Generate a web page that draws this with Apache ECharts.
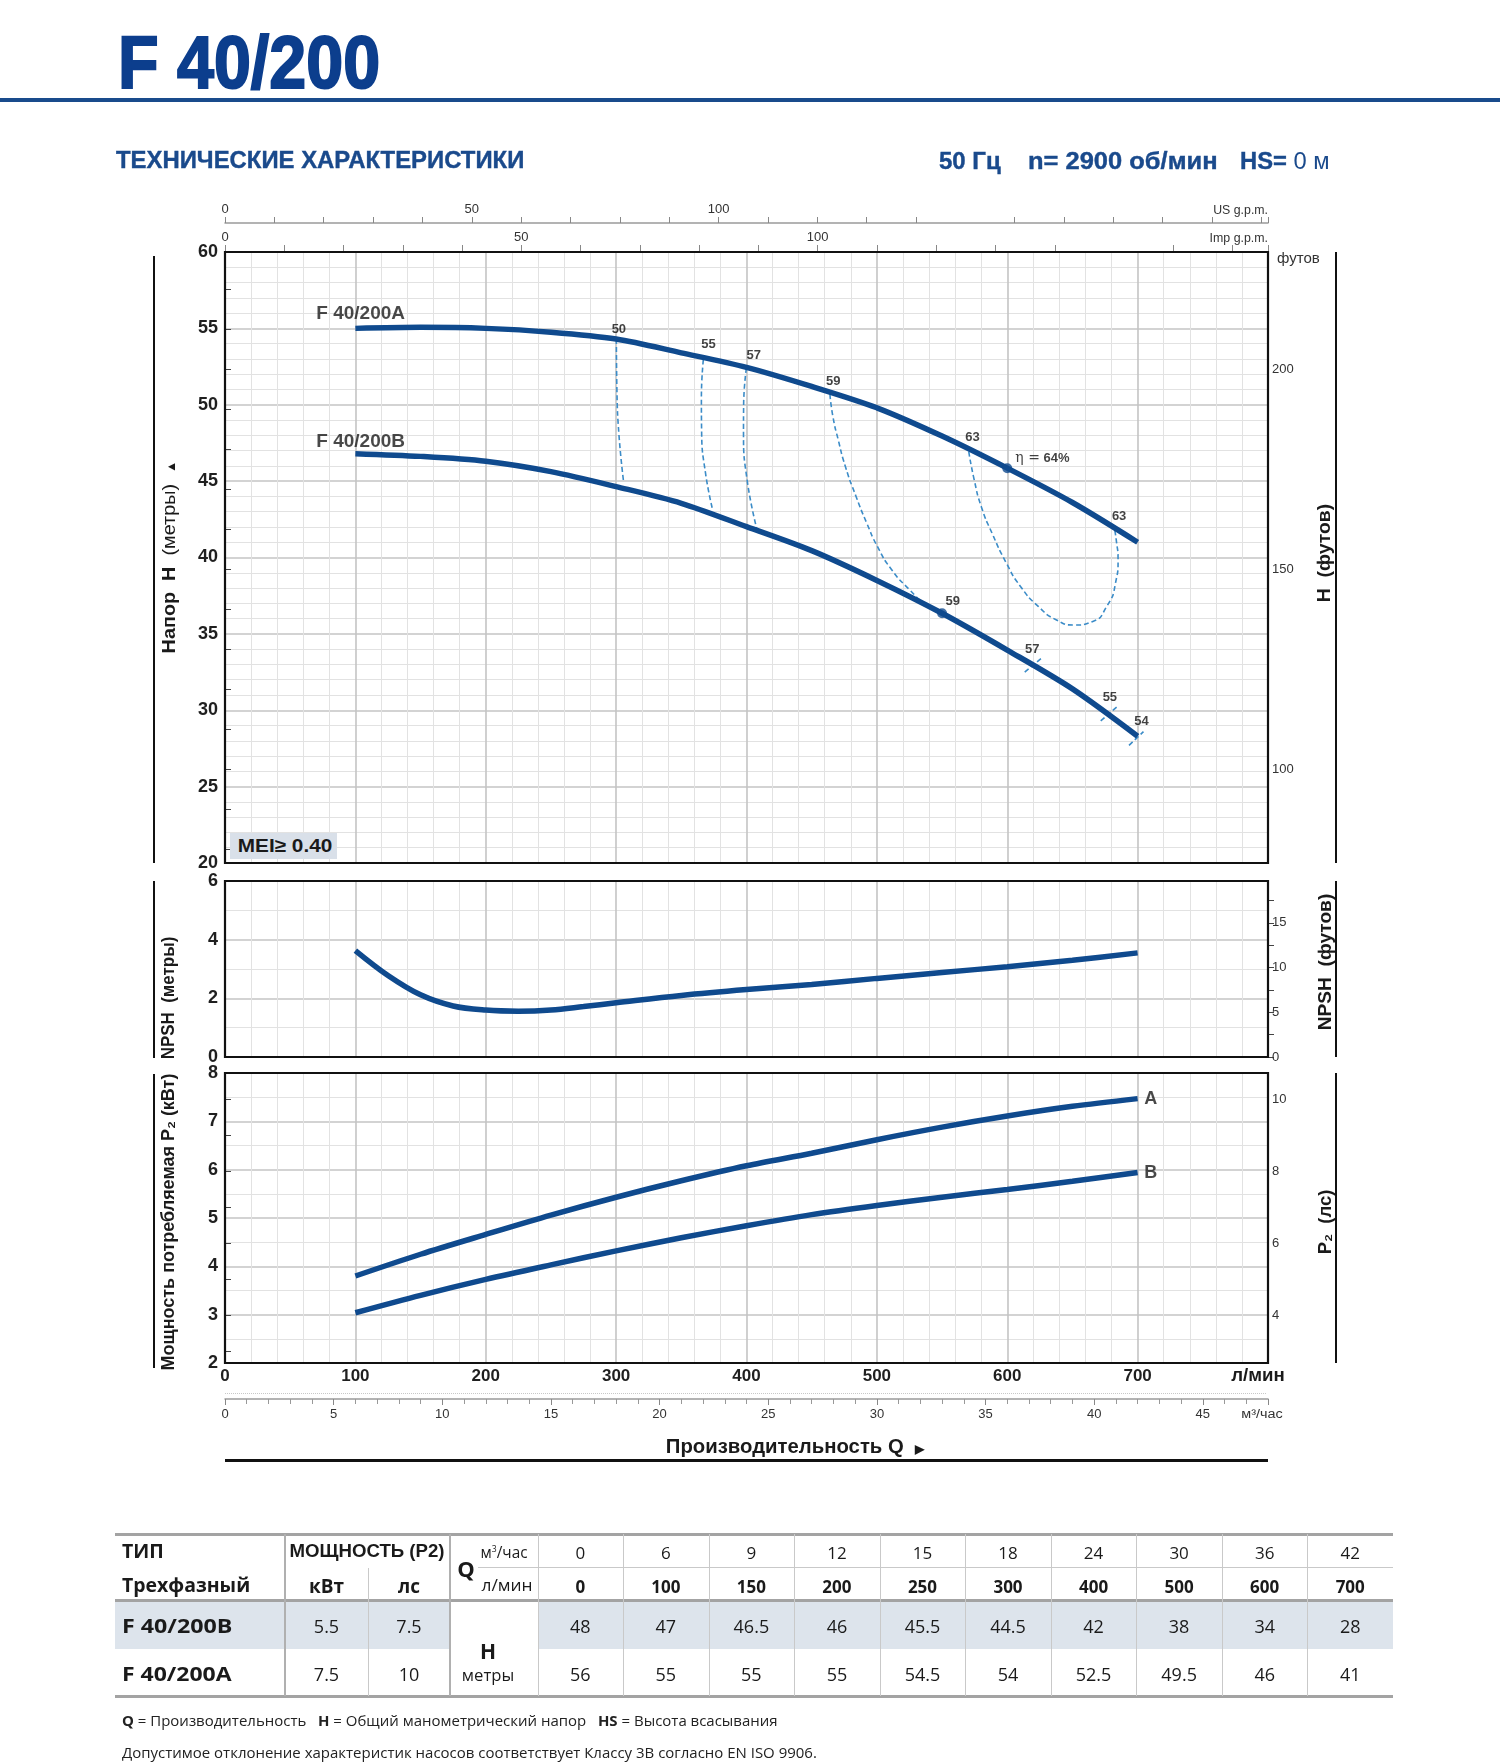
<!DOCTYPE html>
<html><head><meta charset="utf-8">
<script src="https://cdn.jsdelivr.net/npm/echarts@6/dist/echarts.min.js"></script>
<style>
html,body{margin:0;padding:0;background:#fff;}
#page{position:relative;width:1500px;height:1763px;overflow:hidden;background:#fff;}
#chart{position:absolute;left:0;top:0;width:1500px;height:1763px;}
.t{position:absolute;white-space:nowrap;line-height:1.2;transform-origin:0 0;z-index:2;}
.r{position:absolute;z-index:1;}
</style></head><body>
<div id="page"><div id="chart"></div></div>
<script>
// ---------------- data ----------------
const tableQm3   = [0, 6, 9, 12, 15, 18, 24, 30, 36, 42];
const tableQlmin = [0, 100, 150, 200, 250, 300, 400, 500, 600, 700];
const tableHB    = [48, 47, 46.5, 46, 45.5, 44.5, 42, 38, 34, 28];
const tableHA    = [56, 55, 55, 55, 54.5, 54, 52.5, 49.5, 46, 41];
const modelNames = ['F 40/200B', 'F 40/200A'];
const modelKw    = ['5.5', '7.5'];
const modelHp    = ['7.5', '10'];

// curves (Q in l/min)
const curveQ = [100, 150, 200, 250, 300, 350, 400, 450, 500, 550, 600, 650, 700];
const headA  = [55.0, 55.07, 55.0, 54.75, 54.3, 53.4, 52.45, 51.2, 49.8, 47.95, 45.85, 43.6, 41.0];
const headB  = [46.8, 46.62, 46.3, 45.62, 44.64, 43.55, 42.02, 40.45, 38.5, 36.35, 33.94, 31.4, 28.3];

const npshQ = [100, 125, 150, 175, 200, 225, 250, 275, 300, 350, 400, 450, 500, 550, 600, 650, 700];
const npshM = [3.63, 2.78, 2.12, 1.74, 1.60, 1.56, 1.60, 1.72, 1.85, 2.10, 2.30, 2.47, 2.68, 2.88, 3.08, 3.30, 3.55];

const powerQ = [100, 150, 200, 250, 300, 350, 400, 450, 500, 550, 600, 650, 700];
const powerA = [3.80, 4.25, 4.66, 5.06, 5.43, 5.77, 6.08, 6.34, 6.62, 6.88, 7.11, 7.31, 7.47];
const powerB = [3.04, 3.40, 3.73, 4.03, 4.32, 4.59, 4.84, 5.07, 5.26, 5.43, 5.59, 5.76, 5.94];

const iso50 = [[300.2, 54.3], [300.6, 51.0], [302.2, 48.0], [305.8, 44.9]];
const iso55 = [[366.9, 52.95], [365.4, 50.5], [365.6, 48.1], [368.6, 45.5], [373.8, 43.2]];
const iso57 = [[399.9, 52.4], [397.8, 50.0], [397.7, 48.1], [400.6, 45.0], [408.1, 41.8]];
const iso59 = [[464.0, 50.68], [466.3, 49.22], [470.4, 47.69], [475.9, 45.94], [484.1, 43.98], [492.3, 42.24], [500.5, 40.71], [511.5, 39.18], [525.3, 37.87], [536.3, 37.0], [548.6, 36.35]];
const iso63 = [[570.5, 46.93], [574.7, 45.07], [580.1, 43.33], [588.4, 41.58], [599.4, 39.62], [610.3, 38.09], [624.0, 36.78], [637.8, 35.91], [651.5, 35.58], [665.2, 35.80], [676.2, 36.78], [683.0, 38.31], [685.0, 39.84], [683.6, 41.15], [682.2, 41.91]];
const isoTick57 = [[613.4, 32.5], [626.2, 33.4]];
const isoTick55 = [[671.7, 29.3], [683.9, 30.2]];
const isoTick54 = [[693.4, 27.7], [704.5, 28.6]];
const effLabels = [[302.1, 54.94, '50'], [370.8, 53.96, '55'], [405.6, 53.26, '57'], [466.5, 51.55, '59'], [573.3, 47.84, '63'], [685.8, 42.72, '63'], [558.2, 37.11, '59'], [619.1, 33.99, '57'], [678.7, 30.82, '55'], [702.9, 29.25, '54']];
const bepPoints = [[600, 45.84], [550, 36.35]];
const etaLabel  = [[606.2, 46.47, 'η = 64%']];
const curveNames = [[70, 55.98, 'F 40/200A'], [70, 47.6, 'F 40/200B']];
const powerNames = [[705, 7.47, 'A'], [705, 5.94, 'B']];

const ftTicksH   = [80, 90, 100, 110, 120, 130, 140, 150, 160, 170, 180, 190, 200, 210, 220];
const ftLabelsH  = [100, 150, 200];
const ftTicksN   = [0, 2.5, 5, 7.5, 10, 12.5, 15, 17.5];
const ftLabelsN  = [0, 5, 10, 15];
const hpTicks    = [3, 4, 5, 6, 7, 8, 9, 10];
const hpLabels   = [4, 6, 8, 10];
const usLabels   = [0, 50, 100, 150];
const impLabels  = [0, 50, 100, 150];

// ---------------- style ----------------
const NARROW = "'Liberation Sans Narrow','Liberation Sans',Arial,sans-serif";
const ARIAL = "'Liberation Sans',Arial,sans-serif";
const OPEN = "'Open Sans','Noto Sans',sans-serif";
const C_CURVE = '#0f4a8e';
const C_ISO = '#3b8cc8';
const BLUE = '#1a4a8c';

const page = document.getElementById('page');
function txt(html, x, y, o) {
  o = o || {};
  const d = document.createElement('div');
  d.className = 't';
  d.innerHTML = html;
  d.style.left = x + 'px'; d.style.top = y + 'px';
  d.style.font = o.font || ('16px ' + OPEN);
  d.style.color = o.color || '#1a1a1a';
  if (o.css) d.style.cssText += o.css;
  page.appendChild(d);
  const ax = o.anchor === 'c' ? 50 : (o.anchor === 'r' ? 100 : 0);
  const s = o.w ? o.w / d.offsetWidth : 1;
  d.style.transform = 'rotate(' + (o.rot || 0) + 'deg) scaleX(' + s + ') translate(' + (-ax) + '%,-50%)';
  return d;
}
function box(x, y, w, h, color, extra) {
  const d = document.createElement('div');
  d.className = 'r';
  d.style.cssText += 'left:' + x + 'px;top:' + y + 'px;width:' + w + 'px;height:' + h + 'px;background:' + color + ';' + (extra || '');
  page.appendChild(d);
}

// ---------------- header ----------------
txt('F 40/200', 118, 62, {font: 'bold 74px ' + NARROW, color: '#0c3e8d', w: 262, css: '-webkit-text-stroke:2px #0c3e8d;'});
box(0, 98, 1500, 4, '#194b8c');
txt('ТЕХНИЧЕСКИЕ ХАРАКТЕРИСТИКИ', 116, 160, {font: 'bold 24px ' + NARROW, color: BLUE, w: 408, css: '-webkit-text-stroke:0.4px ' + BLUE + ';'});
txt('50 Гц', 939, 161, {font: 'bold 24px ' + NARROW, color: BLUE, w: 62, css: '-webkit-text-stroke:0.4px ' + BLUE + ';'});
txt('n= 2900 об/мин', 1028, 161, {font: 'bold 24px ' + NARROW, color: BLUE, w: 190, css: '-webkit-text-stroke:0.4px ' + BLUE + ';'});
txt('HS=<span style="font-weight:normal;-webkit-text-stroke:0">&nbsp;0 м</span>', 1240, 161, {font: 'bold 24px ' + NARROW, color: BLUE, w: 90, css: '-webkit-text-stroke:0.4px ' + BLUE + ';'});

// ---------------- axis titles / units ----------------
txt('US g.p.m.', 1268, 209, {font: '13px ' + NARROW, color: '#333', anchor: 'r', w: 55});
txt('Imp g.p.m.', 1268, 237, {font: '13px ' + NARROW, color: '#333', anchor: 'r', w: 58});
txt('футов', 1277, 258, {font: '14px ' + ARIAL, color: '#333', w: 43});
txt('<b>Напор&nbsp; H</b>&nbsp; (метры)&nbsp; <span style="font-size:12px">▲</span>', 169, 557, {font: '19px ' + ARIAL, color: '#1a1a1a', anchor: 'c', rot: -90, w: 193});
txt('<b>NPSH&nbsp; (метры)</b>', 168, 998, {font: '19px ' + ARIAL, anchor: 'c', rot: -90, w: 123});
txt('<b>Мощность потребляемая P₂ (кВт)</b>', 168, 1222, {font: '19px ' + ARIAL, anchor: 'c', rot: -90, w: 297});
txt('<b>H&nbsp; (футов)</b>', 1324, 553, {font: '19px ' + ARIAL, anchor: 'c', rot: -90, w: 98});
txt('<b>NPSH&nbsp; (футов)</b>', 1325, 962, {font: '19px ' + ARIAL, anchor: 'c', rot: -90, w: 137});
txt('<b>P₂&nbsp; (лс)</b>', 1325, 1222, {font: '19px ' + ARIAL, anchor: 'c', rot: -90, w: 65});
box(230, 833, 107, 26, '#d9e0e9');
txt('MEI≥ 0.40', 285, 846, {font: 'bold 19px ' + ARIAL, color: '#1a1a1a', anchor: 'c', w: 94});
txt('л/мин', 1258, 1375, {font: 'bold 19px ' + NARROW, anchor: 'c', w: 54});
txt('м³/час', 1262, 1414, {font: '12px ' + NARROW, color: '#333', anchor: 'c', w: 42});
txt('Производительность Q&nbsp; <span style="font-size:12px">▶</span>', 795, 1446, {font: 'bold 20px ' + NARROW, anchor: 'c', w: 258});
box(225, 1459, 1043, 3, '#111');
box(225, 1393, 1041, 0, 'transparent', 'border-top:1px dotted #c8c8c8;');

// ---------------- table ----------------
const tX0 = 115, tX1 = 285, tX2 = 368, tX3 = 450, tX4 = 537.5, tX5 = 1393;
const cw = (tX5 - tX4) / tableQm3.length;
box(tX0, 1601, tX3 - tX0, 48, '#dde4ec');
box(tX4, 1601, tX5 - tX4, 48, '#dde4ec');
box(tX0, 1533, tX5 - tX0, 3, '#a3a3a3');
box(tX0, 1599, tX5 - tX0, 3, '#a3a3a3');
box(tX0, 1695, tX5 - tX0, 3, '#a3a3a3');
box(478, 1567, tX5 - 478, 1, '#c9c9c9');
box(tX1 - 1, 1534, 2, 162, '#b0b0b0');
box(tX2, 1568, 1, 128, '#c9c9c9');
box(tX3 - 1, 1534, 2, 162, '#b0b0b0');
for (let i = 0; i < tableQm3.length; i++) box(Math.round(tX4 + cw * i), 1534, 1, 162, '#c9c9c9');
txt('ТИП', 122, 1551, {font: 'bold 19px ' + OPEN, w: 42});
txt('Трехфазный', 122, 1585, {font: 'bold 19px ' + OPEN, w: 128});
txt('МОЩНОСТЬ (P2)', 367, 1551, {font: 'bold 19px ' + NARROW, anchor: 'c', w: 155});
txt('кВт', 326.5, 1586, {font: 'bold 19px ' + OPEN, anchor: 'c'});
txt('лс', 409, 1586, {font: 'bold 19px ' + OPEN, anchor: 'c'});
txt('Q', 466, 1568, {font: 'bold 22px ' + OPEN, anchor: 'c'});
txt('м<sup style="font-size:9px">3</sup>/час', 504, 1552, {font: '16px ' + OPEN, anchor: 'c', w: 47});
txt('л/мин', 507, 1585, {font: '16px ' + OPEN, anchor: 'c', w: 51});
txt('<b>H</b>', 488, 1651, {font: '21px ' + OPEN, anchor: 'c'});
txt('метры', 488, 1675, {font: '16px ' + OPEN, anchor: 'c', w: 52});
const rowsY = [1626, 1674];
const rowsH = [tableHB, tableHA];
for (let r = 0; r < 2; r++) {
  txt(modelNames[r], 122, rowsY[r], {font: 'bold 19px ' + OPEN, w: 110});
  txt(modelKw[r], 326.5, rowsY[r], {font: '18px ' + OPEN, anchor: 'c'});
  txt(modelHp[r], 409, rowsY[r], {font: '18px ' + OPEN, anchor: 'c'});
}
for (let i = 0; i < tableQm3.length; i++) {
  const cx = tX4 + cw * (i + 0.5);
  txt(String(tableQm3[i]), cx, 1552, {font: '17px ' + OPEN, anchor: 'c'});
  txt(String(tableQlmin[i]), cx, 1586, {font: 'bold 17px ' + OPEN, anchor: 'c'});
  for (let r = 0; r < 2; r++) txt(String(rowsH[r][i]), cx, rowsY[r], {font: '18px ' + OPEN, anchor: 'c'});
}
txt('<b>Q</b> = Производительность &nbsp; <b>H</b> = Общий манометрический напор &nbsp; <b>HS</b> = Высота всасывания', 122, 1720, {font: '15px ' + OPEN, color: '#222', w: 656});
txt('Допустимое отклонение характеристик насосов соответствует Классу 3В согласно EN ISO 9906.', 122, 1752, {font: '15px ' + OPEN, color: '#222', w: 695});

// ---------------- chart ----------------
const chart = echarts.init(document.getElementById('chart'), null, {renderer: 'canvas'});
const G = [
  {left: 225, top: 252, width: 1043, height: 611},
  {left: 225, top: 881, width: 1043, height: 176},
  {left: 225, top: 1073, width: 1043, height: 290}
];
const majorSL = {show: true, lineStyle: {color: '#c4c4c4', width: 1.6}};
const minorSL = {show: true, lineStyle: {color: '#e2e2e2', width: 1}};
const lblNum = {fontFamily: NARROW, fontWeight: 'bold', fontSize: 18, color: '#1f1f1f'};
const lblSmall = {fontFamily: NARROW, fontSize: 13, color: '#333'};

function qAxis(gi, show) {
  return {type: 'value', gridIndex: gi, min: 0, max: 800, interval: 100, position: 'bottom',
    axisLine: {show: false}, axisTick: {show: false},
    axisLabel: {show: show, margin: 5, fontSize: 17, showMaxLabel: false, fontFamily: NARROW, fontWeight: 'bold', color: '#1f1f1f',
      formatter: v => (v >= 800 ? '' : String(v))},
    splitLine: majorSL, minorTick: {show: false, splitNumber: 5}, minorSplitLine: minorSL};
}
function mAxis(gi, min, max, interval, minorN) {
  return {type: 'value', gridIndex: gi, position: 'left', min: min, max: max, interval: interval,
    axisLine: {show: false}, axisTick: {show: false},
    axisLabel: Object.assign({margin: 7}, lblNum),
    splitLine: majorSL, minorTick: {show: false, splitNumber: minorN}, minorSplitLine: minorSL};
}
function rAxis(gi, min, max, ticks, labels) {
  return {type: 'value', gridIndex: gi, position: 'right', min: min, max: max,
    axisLine: {show: false}, splitLine: {show: false},
    axisTick: {show: true, length: 6, lineStyle: {color: '#444', width: 1}, customValues: ticks},
    axisLabel: Object.assign({show: true, margin: 4, customValues: labels}, lblSmall)};
}

const xAxis = [
  qAxis(0, false), qAxis(1, false), qAxis(2, true),
  {type: 'value', gridIndex: 0, position: 'top', offset: 29, min: 0, max: 800 / 3.78541, interval: 10,
    axisLine: {show: true, lineStyle: {color: '#9a9a9a', width: 1.5}},
    axisTick: {show: true, length: 6, lineStyle: {color: '#888'}},
    axisLabel: Object.assign({margin: 7, showMaxLabel: false, customValues: usLabels}, lblSmall),
    splitLine: {show: false}},
  {type: 'value', gridIndex: 0, position: 'top', offset: 0, min: 0, max: 800 / 4.54609, interval: 10,
    axisLine: {show: false},
    axisTick: {show: true, length: 7, lineStyle: {color: '#888'}},
    axisLabel: Object.assign({margin: 8, showMaxLabel: false, customValues: impLabels}, lblSmall),
    splitLine: {show: false}},
  {type: 'value', gridIndex: 2, position: 'bottom', offset: 36, min: 0, max: 800 * 0.06, interval: 5,
    axisLine: {show: true, lineStyle: {color: '#9a9a9a', width: 1.5}},
    axisTick: {show: true, length: 6, lineStyle: {color: '#888'}},
    minorTick: {show: true, splitNumber: 5, length: 5, lineStyle: {color: '#999'}},
    axisLabel: Object.assign({margin: 9, showMaxLabel: false, formatter: v => (v % 5 === 0 && v < 48 ? String(v) : '')}, lblSmall),
    splitLine: {show: false}}
];
const yAxis = [
  mAxis(0, 20, 60, 5, 5),
  rAxis(0, 76.5, 229.25, ftTicksH, ftLabelsH),
  mAxis(1, 0, 6, 2, 2),
  rAxis(1, 0, 6 * 3.28084, ftTicksN, ftLabelsN),
  mAxis(2, 2, 8, 1, 2),
  rAxis(2, 2 * 1.341, 8 * 1.341, hpTicks, hpLabels)
];

const zip = (xs, ys) => xs.map((x, i) => [x, ys[i]]);

const thick = (xi, yi, data, smooth) => ({type: 'line', xAxisIndex: xi, yAxisIndex: yi, data: data, smooth: smooth,
  symbol: 'none', lineStyle: {color: C_CURVE, width: 5.5, cap: 'butt'}, z: 5, silent: true});
const dashed = (data, sm) => ({type: 'line', xAxisIndex: 0, yAxisIndex: 0, data: data, smooth: sm, symbol: 'none',
  lineStyle: {color: C_ISO, width: 1.6, type: [5, 3]}, z: 3, silent: true});
const textSeries = (xi, yi, arr, lbl) => ({type: 'scatter', xAxisIndex: xi, yAxisIndex: yi, symbolSize: 1,
  itemStyle: {color: 'rgba(0,0,0,0)'}, silent: true, z: 8,
  data: arr.map(d => ({value: [d[0], d[1]], name: d[2]})),
  label: Object.assign({show: true, position: 'inside', formatter: '{b}'}, lbl)});

const series = [
  dashed(iso50, 0.5), dashed(iso55, 0.5), dashed(iso57, 0.5), dashed(iso59, 0.6), dashed(iso63, 0.6),
  dashed(isoTick57, 0), dashed(isoTick55, 0), dashed(isoTick54, 0),
  thick(0, 0, zip(curveQ, headA), 0.3),
  thick(0, 0, zip(curveQ, headB), 0.3),
  thick(1, 2, zip(npshQ, npshM), 0.35),
  thick(2, 4, zip(powerQ, powerA), 0.3),
  thick(2, 4, zip(powerQ, powerB), 0.3),
  {type: 'scatter', xAxisIndex: 0, yAxisIndex: 0, data: bepPoints, symbolSize: 10, itemStyle: {color: C_CURVE}, z: 6, silent: true},
  textSeries(0, 0, effLabels, {fontFamily: ARIAL, fontWeight: 'bold', fontSize: 13, color: '#111'}),
  textSeries(0, 0, etaLabel, {align: 'left', fontFamily: ARIAL, fontSize: 13, color: '#111',
    formatter: () => '{a|η =} {b|64%}', rich: {a: {fontFamily: "'DejaVu Serif',serif", fontSize: 14, color: '#111'}, b: {fontFamily: ARIAL, fontWeight: 'bold', fontSize: 13, color: '#111'}}}),
  textSeries(0, 0, curveNames, {align: 'left', fontFamily: NARROW, fontWeight: 'bold', fontSize: 19, color: '#1a1a1a'}),
  textSeries(2, 4, powerNames, {align: 'left', fontFamily: NARROW, fontWeight: 'bold', fontSize: 18, color: '#1a1a1a'})
];

const graphic = [];
G.forEach(g => graphic.push({type: 'rect', z: 100, silent: true,
  shape: {x: g.left, y: g.top, width: g.width, height: g.height},
  style: {fill: null, stroke: '#111', lineWidth: 2.2}}));
const vline = (x, y1, y2) => ({type: 'line', z: 100, silent: true, shape: {x1: x, y1: y1, x2: x, y2: y2}, style: {stroke: '#111', lineWidth: 2}});
graphic.push(vline(154, 256, 863), vline(154, 881, 1058), vline(154, 1074, 1368));
graphic.push(vline(1336, 252, 863), vline(1336, 881, 1057), vline(1336, 1073, 1363));

chart.setOption({
  animation: false,
  textStyle: {fontFamily: ARIAL},
  grid: G,
  xAxis: xAxis,
  yAxis: yAxis,
  series: series,
  graphic: graphic
});
</script>
</body></html>
